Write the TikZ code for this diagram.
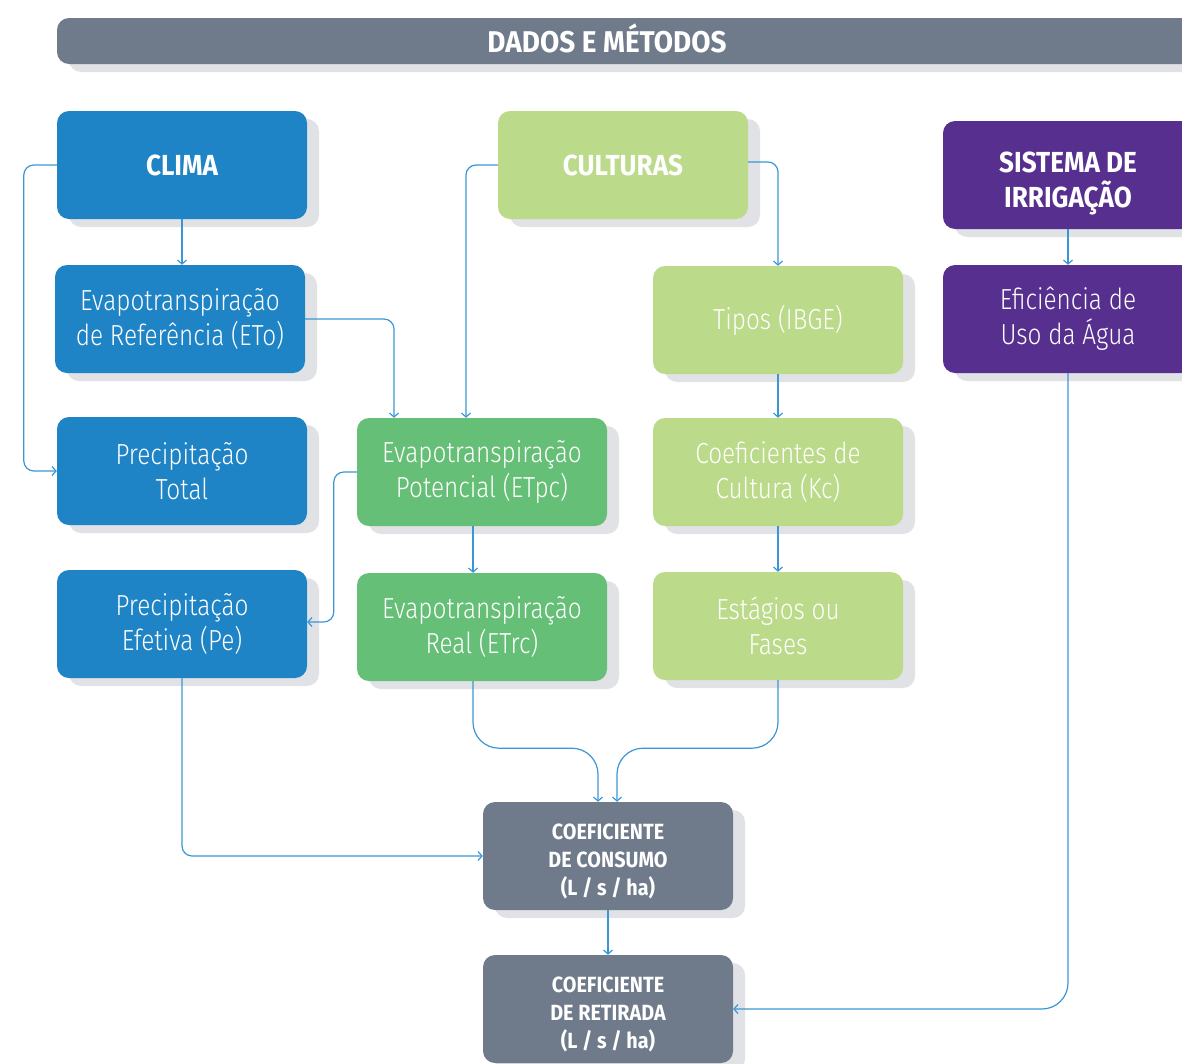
\documentclass[tikz,border=0pt]{standalone}
\usepackage{fontspec}
\setmainfont{Fira Sans}
\newfontfamily\lightf{Fira Sans Light}[FakeStretch=0.84]
\newfontfamily\boldf{Fira Sans}[FakeStretch=0.9]
\newfontfamily\titlef{Fira Sans}[FakeStretch=0.93]
\usetikzlibrary{arrows.meta,shadows}
\definecolor{hdr}{RGB}{111,122,138}
\definecolor{cblue}{RGB}{30,132,198}
\definecolor{cgreen}{RGB}{102,191,118}
\definecolor{clgreen}{RGB}{187,218,138}
\definecolor{cpurp}{RGB}{87,48,143}
\definecolor{shd}{RGB}{225,226,229}
\definecolor{lnc}{RGB}{58,150,212}
\tikzset{
  box/.style={rounded corners=12pt, minimum width=250pt, minimum height=108pt, inner sep=0pt,
    align=center, text=white,
    drop shadow={shadow xshift=12pt, shadow yshift=-8pt, fill=shd, opacity=1}},
  lt/.style={font=\lightf\fontsize{29}{35}\selectfont},
  bd/.style={font=\boldf\bfseries\fontsize{29}{35}\selectfont},
  sm/.style={font=\boldf\bfseries\fontsize{22}{28}\selectfont},
  conn/.style={draw=lnc, line width=1.2pt, rounded corners=10pt, -{Straight Barb[length=4pt,width=9pt]}},
  bigconn/.style={conn, rounded corners=26pt}
}
\begin{document}
\begin{tikzpicture}[x=1pt,y=-1pt]
\useasboundingbox (0,0) rectangle (1182,1063);
\clip (0,0) rectangle (1182,1063);
% header
\fill[shd, rounded corners=12pt] (69,26) rectangle (1260,72);
\fill[hdr, rounded corners=12pt] (57,18) rectangle (1250,64);
\node[text=white, font=\titlef\bfseries\fontsize{30}{36}\selectfont] (title) at (607,38) {DADOS E MÉTODOS};
% left column
\node[box, bd, fill=cblue] (clima) at (182,165) {CLIMA};
\node[box, lt, fill=cblue] (eto) at (180,319) {Evapotranspiração\\de Referência (ETo)};
\node[box, lt, fill=cblue] (ptot) at (182,471) {Precipitação\\Total};
\node[box, lt, fill=cblue] (pef) at (182,624) {Precipitação\\Efetiva (Pe)};
% middle
\node[box, bd, fill=clgreen] (cult) at (623,165) {CULTURAS};
\node[box, lt, fill=cgreen] (etpc) at (482,472) {Evapotranspiração\\Potencial (ETpc)};
\node[box, lt, fill=cgreen] (etrc) at (482,627) {Evapotranspiração\\Real (ETrc)};
% right-middle
\node[box, lt, fill=clgreen] (tipos) at (778,320) {Tipos (IBGE)};
\node[box, lt, fill=clgreen] (kc) at (778,472) {Coeficientes de\\Cultura (Kc)};
\node[box, lt, fill=clgreen] (est) at (778,626) {Estágios ou\\Fases};
% right
\node[box, bd, fill=cpurp] (sis) at (1068,175) {\rule{0pt}{38pt}SISTEMA DE\\IRRIGAÇÃO};
\node[box, lt, fill=cpurp] (efic) at (1068,319) {Eficiência de\\Uso da Água};
% bottom
\node[box, sm, fill=hdr] (cons) at (608,856) {\rule{0pt}{26pt}COEFICIENTE\\DE CONSUMO\\(L / s / ha)};
\node[box, sm, fill=hdr] (ret) at (608,1009) {\rule{0pt}{26pt}COEFICIENTE\\DE RETIRADA\\(L / s / ha)};
% connectors
\draw[conn] (clima.west) -- ++(-33,0) |- (ptot.west);
\draw[conn] (clima.south) -- (eto.north -| clima.south);
\draw[conn] (eto.east) -| ([xshift=-88pt]etpc.north);
\draw[conn] (cult.west) -| ([xshift=-16pt]etpc.north);
\draw[conn] ([yshift=3pt]cult.east) -| (tipos.north);
\draw[conn] (tipos.south) -- (kc.north);
\draw[conn] (kc.south) -- (est.north);
\draw[conn] (etpc.west) -- ++(-23,0) |- ([yshift=2pt]pef.east);
\draw[conn] ([xshift=-9pt]etpc.south) -- ([xshift=-9pt]etrc.north);
\draw[bigconn] ([xshift=-9pt]etrc.south) -- ++(0,67) -| ([xshift=-10pt]cons.north);
\draw[bigconn] (est.south) -- ++(0,68) -| ([xshift=9pt]cons.north);
\draw[conn] (pef.south) |- (cons.west);
\draw[conn] (cons.south) -- (ret.north);
\draw[conn] (sis.south) -- (efic.north);
\draw[bigconn] (efic.south) |- (ret.east);
\end{tikzpicture}
\end{document}
